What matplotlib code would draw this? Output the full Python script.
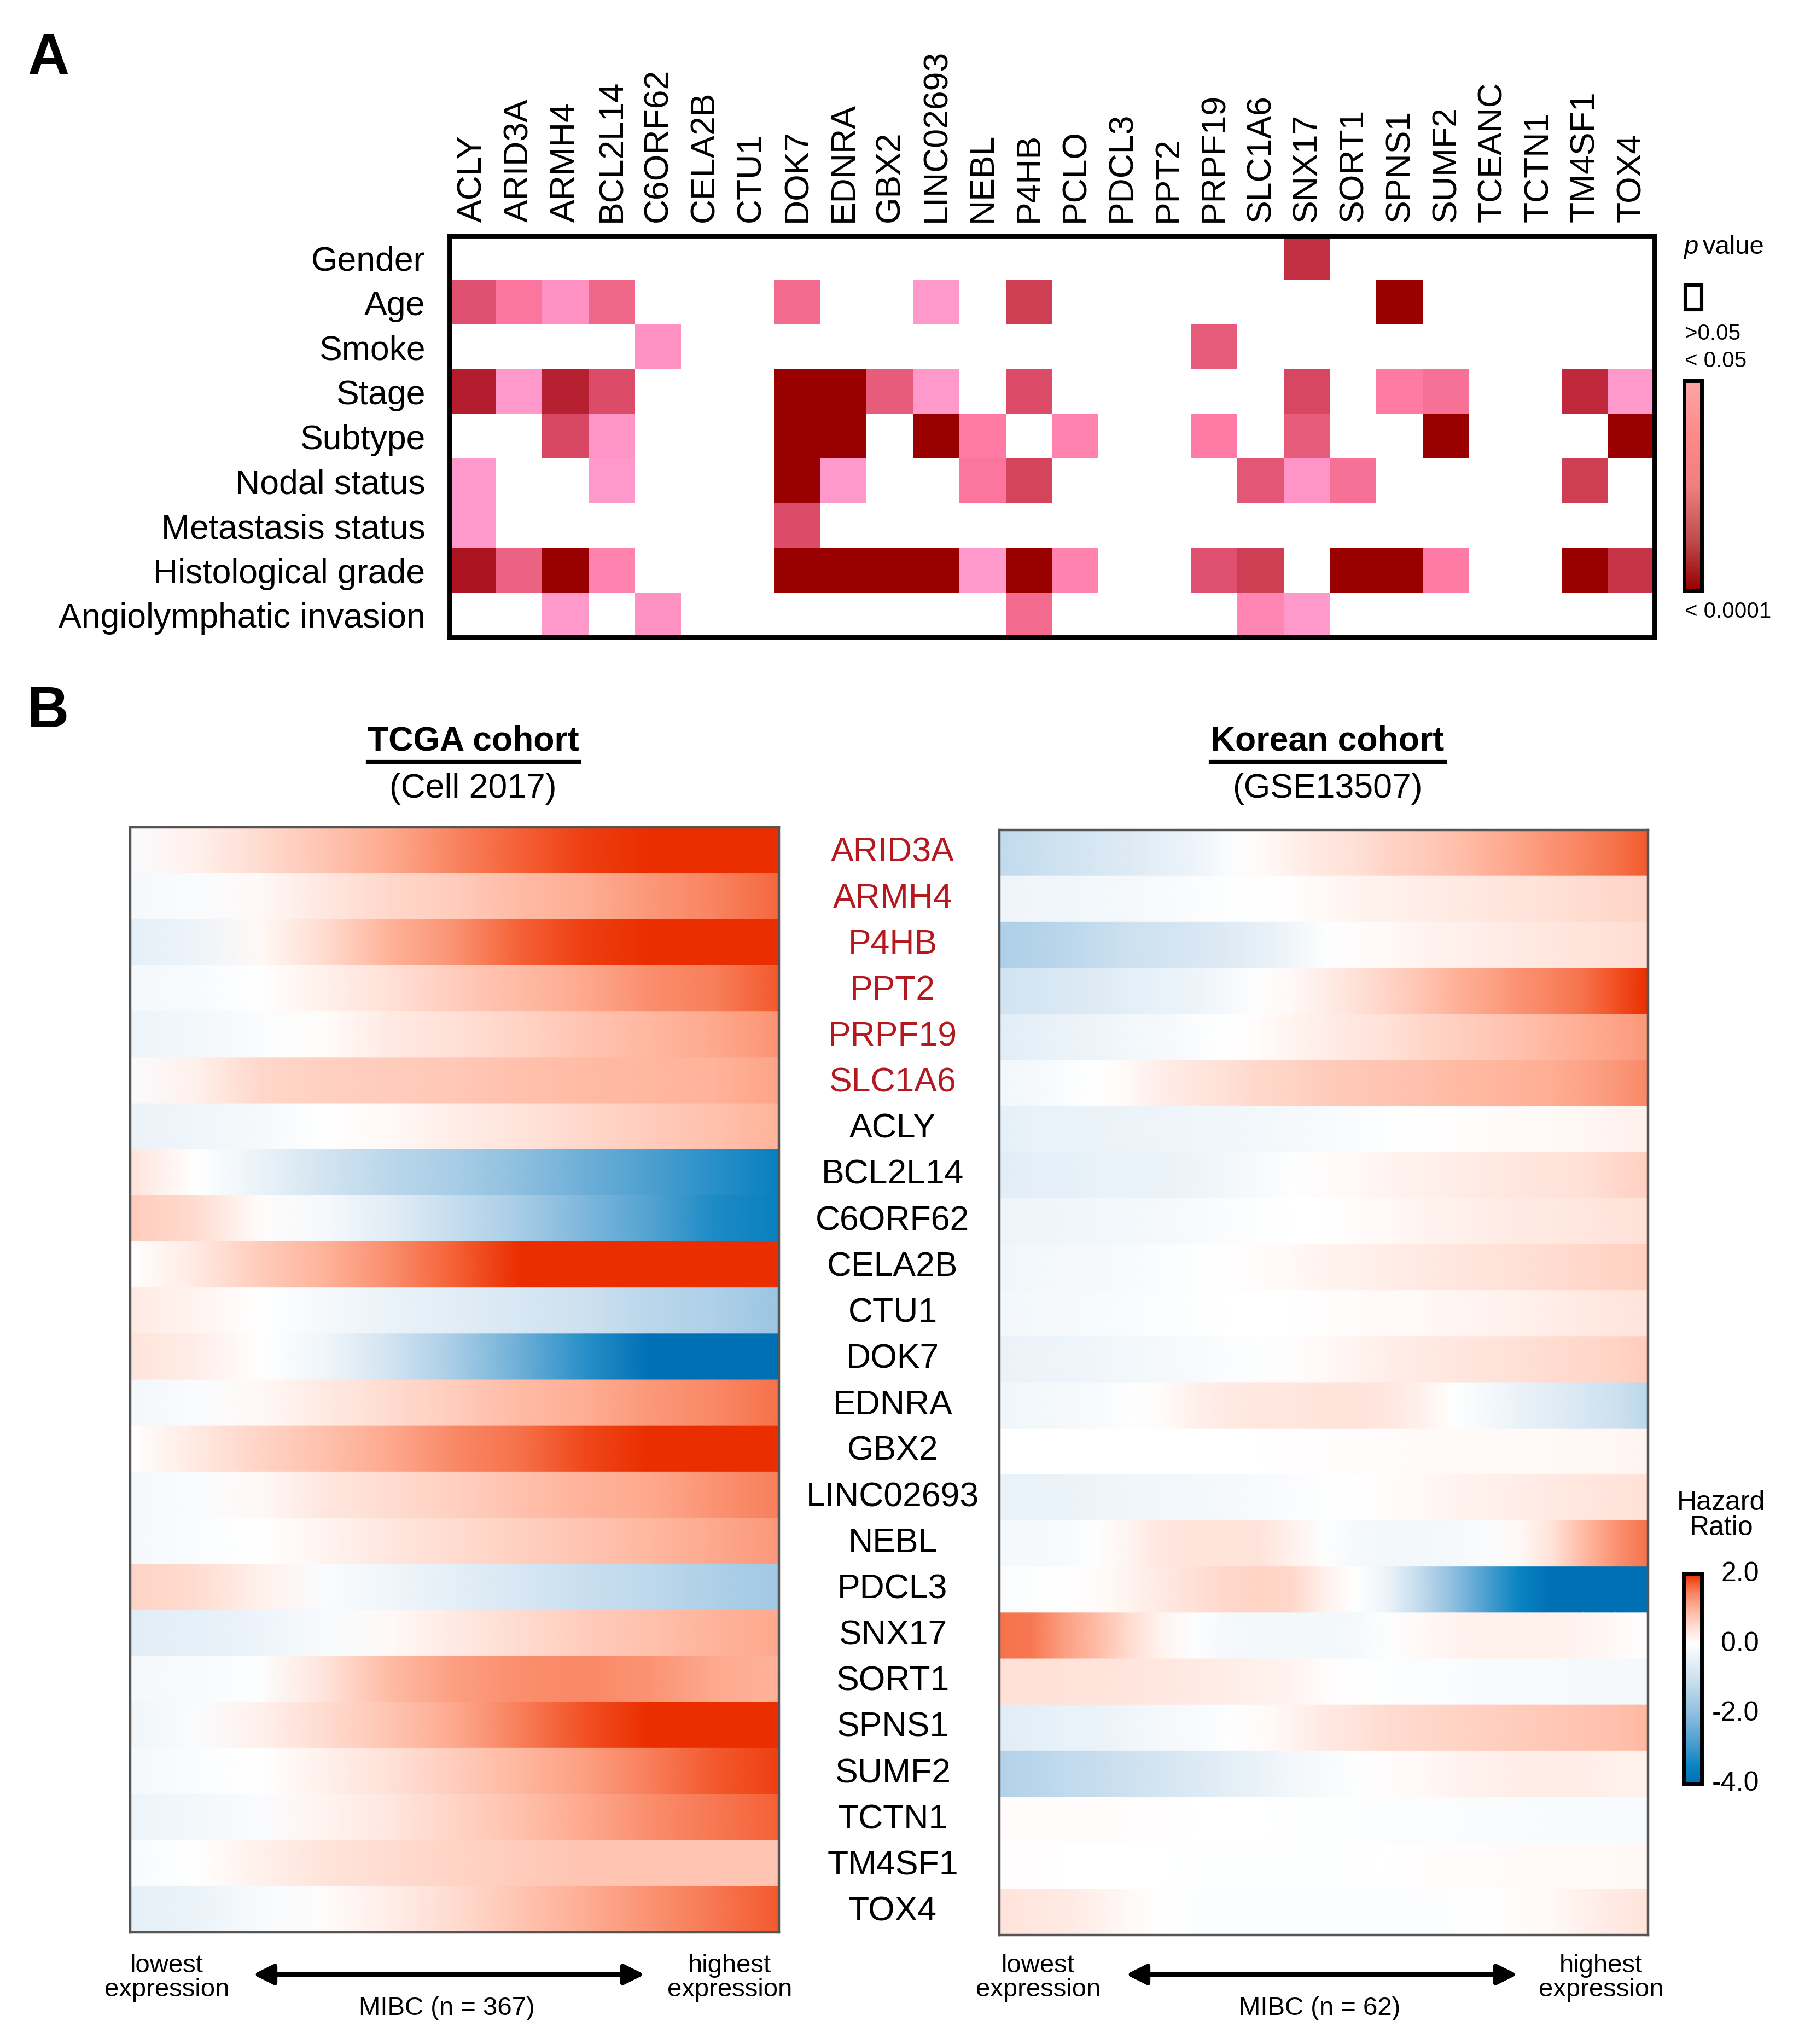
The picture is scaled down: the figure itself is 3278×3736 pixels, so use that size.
import matplotlib
matplotlib.use("Agg")
import matplotlib.pyplot as plt
import numpy as np
from matplotlib.colors import LinearSegmentedColormap, Normalize
from matplotlib.patches import Rectangle, FancyArrowPatch
from matplotlib.lines import Line2D
from matplotlib import transforms

plt.rcParams['font.family'] = ['Liberation Sans', 'DejaVu Sans']

# ---------------- data ----------------
genes_a = ['ACLY', 'ARID3A', 'ARMH4', 'BCL2L14', 'C6ORF62', 'CELA2B', 'CTU1', 'DOK7',
           'EDNRA', 'GBX2', 'LINC02693', 'NEBL', 'P4HB', 'PCLO', 'PDCL3', 'PPT2',
           'PRPF19', 'SLC1A6', 'SNX17', 'SORT1', 'SPNS1', 'SUMF2', 'TCEANC', 'TCTN1',
           'TM4SF1', 'TOX4']
clinical = ['Gender', 'Age', 'Smoke', 'Stage', 'Subtype', 'Nodal status',
            'Metastasis status', 'Histological grade', 'Angiolymphatic invasion']

# -log10(p) per clinical variable, 0 = not significant (p > 0.05)
neglog_p = [
    [0, 0, 0, 0, 0, 0, 0, 0, 0, 0, 0, 0, 0, 0, 0, 0, 0, 0, 3.3, 0, 0, 0, 0, 0, 0, 0],
    [2.6, 1.9, 1.5, 2.2, 0, 0, 0, 2.1, 0, 0, 1.4, 0, 3.0, 0, 0, 0, 0, 0, 0, 0, 4.0, 0, 0, 0, 0, 0],
    [0, 0, 0, 0, 1.5, 0, 0, 0, 0, 0, 0, 0, 0, 0, 0, 0, 2.4, 0, 0, 0, 0, 0, 0, 0, 0, 0],
    [3.6, 1.4, 3.55, 2.7, 0, 0, 0, 4.0, 4.0, 2.4, 1.4, 0, 2.7, 0, 0, 0, 0, 0, 2.8, 0, 1.8, 2.0, 0, 0, 3.4, 1.4],
    [0, 0, 2.8, 1.45, 0, 0, 0, 4.0, 4.0, 0, 4.0, 1.8, 0, 1.7, 0, 0, 1.8, 0, 2.4, 0, 0, 4.0, 0, 0, 0, 4.0],
    [1.4, 0, 0, 1.4, 0, 0, 0, 4.0, 1.4, 0, 0, 1.9, 2.9, 0, 0, 0, 0, 2.5, 1.45, 2.0, 0, 0, 0, 0, 3.0, 0],
    [1.4, 0, 0, 0, 0, 0, 0, 2.7, 0, 0, 0, 0, 0, 0, 0, 0, 0, 0, 0, 0, 0, 0, 0, 0, 0, 0],
    [3.75, 2.3, 4.0, 1.7, 0, 0, 0, 4.0, 4.0, 4.0, 4.0, 1.4, 4.0, 1.7, 0, 0, 2.6, 3.0, 0, 4.0, 4.0, 1.8, 0, 0, 4.0, 3.2],
    [0, 0, 1.4, 0, 1.5, 0, 0, 0, 0, 0, 0, 0, 2.1, 0, 0, 0, 0, 1.65, 1.4, 0, 0, 0, 0, 0, 0, 0],
]

genes_b = ['ARID3A', 'ARMH4', 'P4HB', 'PPT2', 'PRPF19', 'SLC1A6', 'ACLY', 'BCL2L14',
           'C6ORF62', 'CELA2B', 'CTU1', 'DOK7', 'EDNRA', 'GBX2', 'LINC02693', 'NEBL',
           'PDCL3', 'SNX17', 'SORT1', 'SPNS1', 'SUMF2', 'TCTN1', 'TM4SF1', 'TOX4']
n_highlight = 6

# hazard ratio (log scale) along patients sorted by expression, TCGA (11 points per gene)
hr_tcga = [
    [-0.1, 0.2, 0.5, 0.8, 1.1, 1.45, 1.7, 1.9, 2.0, 2.0, 2.0],
    [-0.2, -0.1, 0.1, 0.35, 0.55, 0.7, 0.9, 1.05, 1.25, 1.45, 1.65],
    [-0.5, -0.35, 0.1, 0.5, 1.0, 1.3, 1.7, 1.9, 2.0, 2.0, 2.0],
    [-0.2, -0.15, 0.0, 0.2, 0.45, 0.7, 0.9, 1.1, 1.35, 1.5, 1.75],
    [-0.35, -0.25, -0.1, 0.05, 0.3, 0.45, 0.6, 0.8, 0.95, 1.1, 1.3],
    [-0.1, 0.2, 0.55, 0.65, 0.7, 0.75, 0.85, 0.9, 0.95, 1.0, 1.15],
    [-0.4, -0.3, -0.2, 0.0, 0.1, 0.25, 0.4, 0.55, 0.7, 0.85, 1.0],
    [0.4, 0.0, -0.4, -0.9, -1.3, -1.6, -2.0, -2.4, -2.8, -3.2, -3.6],
    [0.7, 0.5, 0.05, -0.2, -0.6, -1.1, -1.6, -2.2, -2.7, -3.3, -3.6],
    [0.0, 0.3, 0.7, 1.0, 1.35, 1.7, 2.0, 2.0, 2.0, 2.0, 2.0],
    [0.3, 0.15, 0.0, -0.2, -0.4, -0.6, -0.8, -1.0, -1.3, -1.5, -1.8],
    [0.4, 0.25, 0.0, -0.3, -0.9, -1.6, -2.4, -3.2, -4.0, -4.0, -4.0],
    [-0.25, -0.1, 0.1, 0.3, 0.5, 0.7, 0.9, 1.05, 1.25, 1.4, 1.6],
    [0.0, 0.3, 0.6, 0.85, 1.1, 1.4, 1.6, 1.85, 2.0, 2.0, 2.0],
    [-0.2, -0.1, 0.1, 0.35, 0.5, 0.65, 0.85, 1.0, 1.1, 1.3, 1.5],
    [-0.2, -0.1, 0.0, 0.15, 0.35, 0.5, 0.65, 0.8, 0.95, 1.1, 1.25],
    [0.6, 0.5, 0.2, -0.1, -0.3, -0.55, -0.8, -1.05, -1.25, -1.5, -1.7],
    [-0.6, -0.5, -0.35, -0.15, 0.1, 0.3, 0.5, 0.7, 0.85, 1.0, 1.1],
    [-0.2, -0.15, -0.05, 0.4, 0.9, 1.2, 1.35, 1.4, 1.3, 1.1, 1.0],
    [-0.3, -0.1, 0.2, 0.5, 0.8, 1.1, 1.5, 1.8, 2.0, 2.0, 2.0],
    [-0.2, -0.1, 0.0, 0.2, 0.45, 0.7, 0.95, 1.2, 1.5, 1.75, 1.9],
    [-0.35, -0.25, -0.1, 0.15, 0.35, 0.6, 0.85, 1.1, 1.35, 1.55, 1.7],
    [-0.15, 0.0, 0.2, 0.4, 0.5, 0.6, 0.7, 0.8, 0.8, 0.8, 0.8],
    [-0.5, -0.4, -0.15, 0.05, 0.25, 0.5, 0.8, 1.05, 1.3, 1.55, 1.75],
]

# Korean cohort (21 points per gene)
hr_korean = [
    [-1.2, -1.05, -0.95, -0.8, -0.65, -0.5, -0.35, -0.1, 0.05, 0.2, 0.35, 0.45, 0.6, 0.7, 0.85, 1.0, 1.15, 1.3, 1.45, 1.6, 1.75],
    [-0.35, -0.32, -0.3, -0.25, -0.2, -0.15, -0.1, -0.05, 0.0, 0.03, 0.08, 0.15, 0.2, 0.25, 0.3, 0.35, 0.4, 0.45, 0.5, 0.55, 0.6],
    [-1.5, -1.4, -1.3, -1.15, -1.0, -0.9, -0.8, -0.65, -0.5, -0.3, -0.05, 0.05, 0.1, 0.15, 0.2, 0.25, 0.3, 0.35, 0.4, 0.45, 0.5],
    [-0.9, -0.85, -0.75, -0.65, -0.55, -0.45, -0.35, -0.2, -0.05, 0.1, 0.25, 0.45, 0.6, 0.8, 1.0, 1.15, 1.3, 1.45, 1.6, 1.8, 2.0],
    [-0.6, -0.5, -0.4, -0.35, -0.25, -0.2, -0.1, 0.0, 0.05, 0.15, 0.25, 0.35, 0.45, 0.55, 0.65, 0.75, 0.85, 0.95, 1.05, 1.15, 1.25],
    [-0.25, -0.2, -0.1, 0.0, 0.1, 0.25, 0.35, 0.45, 0.55, 0.6, 0.7, 0.75, 0.8, 0.85, 0.9, 0.95, 1.0, 1.05, 1.15, 1.25, 1.4],
    [-0.5, -0.45, -0.42, -0.4, -0.38, -0.35, -0.32, -0.3, -0.25, -0.2, -0.15, -0.1, -0.05, 0.0, 0.02, 0.05, 0.08, 0.1, 0.12, 0.15, 0.2],
    [-0.6, -0.55, -0.5, -0.45, -0.45, -0.4, -0.35, -0.25, -0.15, -0.05, 0.05, 0.1, 0.15, 0.2, 0.25, 0.3, 0.35, 0.4, 0.45, 0.55, 0.65],
    [-0.35, -0.33, -0.3, -0.28, -0.25, -0.2, -0.15, -0.1, -0.05, 0.0, 0.0, 0.05, 0.1, 0.15, 0.2, 0.25, 0.3, 0.32, 0.35, 0.4, 0.45],
    [-0.3, -0.25, -0.2, -0.18, -0.15, -0.1, -0.05, 0.0, 0.05, 0.1, 0.15, 0.2, 0.25, 0.3, 0.35, 0.4, 0.45, 0.5, 0.55, 0.6, 0.65],
    [-0.25, -0.22, -0.2, -0.15, -0.12, -0.08, -0.05, 0.0, 0.0, 0.0, 0.03, 0.05, 0.08, 0.1, 0.13, 0.17, 0.2, 0.25, 0.3, 0.35, 0.4],
    [-0.4, -0.38, -0.35, -0.3, -0.25, -0.2, -0.15, -0.1, -0.05, 0.03, 0.1, 0.17, 0.25, 0.3, 0.35, 0.4, 0.45, 0.5, 0.55, 0.6, 0.7],
    [-0.3, -0.25, -0.2, -0.15, -0.05, 0.05, 0.2, 0.3, 0.35, 0.35, 0.4, 0.4, 0.35, 0.2, 0.0, -0.2, -0.4, -0.6, -0.8, -1.0, -1.3],
    [0.0, 0.0, 0.0, 0.0, 0.0, 0.0, 0.0, 0.0, 0.0, 0.02, 0.03, 0.05, 0.05, 0.07, 0.08, 0.08, 0.1, 0.1, 0.12, 0.12, 0.15],
    [-0.45, -0.45, -0.4, -0.35, -0.3, -0.28, -0.25, -0.2, -0.15, -0.1, -0.05, 0.0, 0.05, 0.1, 0.15, 0.2, 0.25, 0.3, 0.35, 0.4, 0.45],
    [-0.2, -0.2, -0.15, -0.05, 0.15, 0.35, 0.4, 0.4, 0.4, 0.2, -0.05, -0.2, -0.25, -0.25, -0.2, -0.1, 0.1, 0.4, 0.9, 1.3, 1.6],
    [-0.1, -0.05, 0.0, 0.05, 0.15, 0.3, 0.45, 0.55, 0.6, 0.55, 0.2, 0.0, -0.4, -1.2, -2.0, -2.8, -3.5, -4.0, -4.0, -4.0, -4.0],
    [1.6, 1.55, 1.2, 0.9, 0.5, 0.15, -0.05, -0.2, -0.25, -0.25, -0.25, -0.2, -0.05, 0.1, 0.15, 0.2, 0.2, 0.2, 0.15, 0.1, 0.0],
    [0.45, 0.45, 0.42, 0.4, 0.38, 0.35, 0.3, 0.25, 0.2, 0.15, 0.05, 0.0, -0.05, -0.1, -0.1, -0.15, -0.15, -0.15, -0.2, -0.2, -0.2],
    [-0.6, -0.55, -0.45, -0.4, -0.3, -0.2, -0.15, -0.05, 0.05, 0.15, 0.3, 0.4, 0.5, 0.55, 0.6, 0.65, 0.7, 0.75, 0.8, 0.85, 0.95],
    [-1.4, -1.35, -1.2, -1.1, -1.0, -0.85, -0.7, -0.55, -0.4, -0.25, -0.15, -0.05, 0.05, 0.1, 0.15, 0.2, 0.25, 0.25, 0.25, 0.2, 0.2],
    [0.05, 0.05, 0.05, 0.05, 0.03, 0.02, 0.0, 0.0, 0.0, -0.02, -0.05, -0.05, -0.08, -0.1, -0.1, -0.12, -0.12, -0.15, -0.15, -0.15, -0.15],
    [0.03, 0.02, 0.0, 0.0, 0.0, 0.0, -0.03, -0.05, -0.05, -0.05, -0.05, -0.03, 0.0, 0.03, 0.05, 0.05, 0.07, 0.08, 0.1, 0.1, 0.12],
    [0.4, 0.35, 0.3, 0.2, 0.1, 0.0, -0.05, -0.1, -0.1, -0.1, -0.1, -0.1, -0.1, -0.08, -0.05, 0.0, 0.05, 0.1, 0.2, 0.3, 0.4],
]

hr_ticks = [2.0, 0.0, -2.0, -4.0]

# ---------------- colours ----------------
p_lo, p_hi = 1.3, 4.0
p_anchor = [(1.3, '#ffa2d2'), (1.4, '#ff99cc'), (1.8, '#ff7aa5'), (2.2, '#f06888'),
            (2.6, '#e05070'), (3.0, '#d04055'), (3.4, '#c02a3c'), (3.7, '#b01828'),
            (4.0, '#990000')]
p_cmap = LinearSegmentedColormap.from_list(
    'pcells', [((v - p_lo) / (p_hi - p_lo), c) for v, c in p_anchor])
p_bar_cmap = LinearSegmentedColormap.from_list(
    'pbar', ['#990000', '#c05050', '#f08080', '#ff8a8a', '#ffa6a6'])

hr_lo, hr_hi = -4.0, 2.0
hr_anchor = [(-4.0, '#0070b5'), (-3.5, '#0a84c2'), (-3.0, '#3d98cc'), (-2.0, '#8fbfe0'),
             (-1.0, '#cde1f0'), (0.0, '#ffffff'), (0.5, '#ffddd2'), (1.0, '#ffb49c'),
             (1.5, '#f8805c'), (1.75, '#f45c30'), (2.0, '#ea2e00')]
hr_cmap = LinearSegmentedColormap.from_list(
    'hr', [((v - hr_lo) / (hr_hi - hr_lo), c) for v, c in hr_anchor])
hr_norm = Normalize(vmin=hr_lo, vmax=hr_hi, clip=True)

# ---------------- figure ----------------
W, H, DPI = 3278, 3736, 200
fig = plt.figure(figsize=(W / DPI, H / DPI), dpi=DPI)


def add_ax(x0, y0, x1, y1):
    return fig.add_axes([x0 / W, 1 - y1 / H, (x1 - x0) / W, (y1 - y0) / H])


def fx(x):
    return x / W


def fy(y):
    return 1 - y / H


lab_fs = 22.5

# ---- panel A ----
fig.text(fx(50), fy(60), 'A', fontsize=38, fontweight='bold', va='top', ha='left')

axA = add_ax(822, 431, 3025, 1165)
M = np.array(neglog_p, dtype=float)
axA.imshow(np.ma.masked_where(M == 0, M), cmap=p_cmap, vmin=p_lo, vmax=p_hi,
           aspect='auto', interpolation='nearest', extent=(0, len(genes_a), len(clinical), 0))
axA.set_facecolor('white')
axA.set_xlim(0, len(genes_a))
axA.set_ylim(len(clinical), 0)
axA.set_xticks(np.arange(len(genes_a)) + 0.5)
axA.set_xticklabels(genes_a, rotation=90, fontsize=lab_fs)
axA.xaxis.tick_top()
axA.set_yticks(np.arange(len(clinical)) + 0.5)
axA.set_yticklabels(clinical, fontsize=lab_fs)
axA.tick_params(axis='x', length=0, pad=9)
axA.tick_params(axis='y', length=0, pad=16)
for s in axA.spines.values():
    s.set_linewidth(3.2)

# p value legend
fig.text(fx(3078), fy(452), 'p', fontsize=17, style='italic', va='center', ha='left')
fig.text(fx(3113), fy(452), 'value', fontsize=17, va='center', ha='left')
fig.add_artist(Rectangle((fx(3081), fy(566)), fx(30), 45 / H, transform=fig.transFigure,
                         facecolor='white', edgecolor='black', linewidth=2.2))
fig.text(fx(3080), fy(610), '>0.05', fontsize=14.5, va='center', ha='left')
fig.text(fx(3080), fy(660), '< 0.05', fontsize=14.5, va='center', ha='left')
axP = add_ax(3079, 696, 3111, 1079)
axP.imshow(np.linspace(1, 0, 256)[:, None], cmap=p_bar_cmap, aspect='auto', extent=(0, 1, 0, 1))
axP.set_xticks([])
axP.set_yticks([])
for s in axP.spines.values():
    s.set_linewidth(2.5)
fig.text(fx(3080), fy(1118), '< 0.0001', fontsize=14.5, va='center', ha='left')

# ---- panel B ----
fig.text(fx(50), fy(1252), 'B', fontsize=38, fontweight='bold', va='top', ha='left')

t1 = fig.text(fx(865), fy(1355), 'TCGA cohort', fontsize=lab_fs, fontweight='bold', ha='center', va='center')
t2 = fig.text(fx(2427), fy(1355), 'Korean cohort', fontsize=lab_fs, fontweight='bold', ha='center', va='center')
fig.text(fx(865), fy(1441), '(Cell 2017)', fontsize=lab_fs, ha='center', va='center')
fig.text(fx(2427), fy(1441), '(GSE13507)', fontsize=lab_fs, ha='center', va='center')


def draw_hr(ax, rows):
    n_rows = len(rows)
    for i, vals in enumerate(rows):
        vals = np.asarray(vals, dtype=float)
        xs = np.linspace(0, 1, len(vals))
        X = np.vstack([xs, xs])
        Y = np.vstack([np.full_like(xs, i), np.full_like(xs, i + 1)])
        C = np.vstack([vals, vals])
        ax.pcolormesh(X, Y, C, shading='gouraud', cmap=hr_cmap, norm=hr_norm)
    ax.set_xlim(0, 1)
    ax.set_ylim(n_rows, 0)
    ax.set_xticks([])
    ax.set_yticks([])
    for s in ax.spines.values():
        s.set_linewidth(1.6)
        s.set_color('#555555')


axL = add_ax(238, 1512, 1424, 3532)
axR = add_ax(1827, 1517, 3013, 3537)
draw_hr(axL, hr_tcga)
draw_hr(axR, hr_korean)

tr = transforms.blended_transform_factory(fig.transFigure, axL.transData)
for i, g in enumerate(genes_b):
    col = '#b3191e' if i < n_highlight else 'black'
    axL.text(fx(1632), i + 0.55, g, transform=tr, ha='center', va='center',
             fontsize=lab_fs, color=col, clip_on=False)

# hazard ratio colour bar
fig.text(fx(3147), fy(2770), 'Hazard\nRatio', fontsize=18, ha='center', va='center', linespacing=1.0)
axC = add_ax(3078, 2877, 3111, 3260)
axC.imshow(np.linspace(hr_hi, hr_lo, 256)[:, None], cmap=hr_cmap, norm=hr_norm,
           aspect='auto', extent=(0, 1, hr_lo, hr_hi))
axC.set_xlim(0, 1)
axC.set_ylim(hr_lo, hr_hi)
axC.set_xticks([])
axC.set_yticks([])
for s in axC.spines.values():
    s.set_linewidth(2.5)
trc = transforms.blended_transform_factory(fig.transFigure, axC.transData)
for v in hr_ticks:
    axC.text(fx(3216), v, f'{v:.1f}', transform=trc, ha='right', va='center',
             fontsize=18, clip_on=False)

# bottom expression annotations
for lo_x, hi_x, mid_x, a0, a1, label in [
        (305, 1334, 817, 457, 1184, 'MIBC (n = 367)'),
        (1898, 2927, 2413, 2053, 2780, 'MIBC (n = 62)')]:
    fig.text(fx(lo_x), fy(3615), 'lowest\nexpression', fontsize=17, ha='center', va='center', linespacing=1.0)
    fig.text(fx(hi_x), fy(3615), 'highest\nexpression', fontsize=17, ha='center', va='center', linespacing=1.0)
    fig.text(fx(mid_x), fy(3671), label, fontsize=17, ha='center', va='center')
    fig.add_artist(FancyArrowPatch(
        (fx(a0), fy(3609)), (fx(a1), fy(3609)), transform=fig.transFigure,
        arrowstyle='<|-|>', mutation_scale=28, linewidth=3, color='black'))

# underline cohort titles
fig.canvas.draw()
inv = fig.transFigure.inverted()
for t in (t1, t2):
    bb = t.get_window_extent()
    (x0, y0), (x1, y1) = inv.transform([(bb.x0, bb.y0), (bb.x1, bb.y1)])
    fig.add_artist(Line2D([x0, x1], [y0 - 0.002, y0 - 0.002], transform=fig.transFigure,
                          color='black', linewidth=2.6))

fig.savefig('out.png', dpi=DPI)
